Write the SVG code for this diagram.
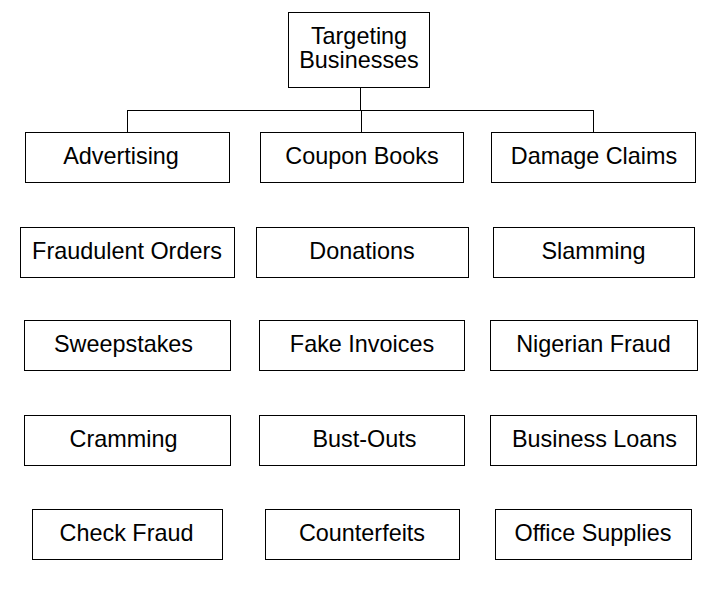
<svg xmlns="http://www.w3.org/2000/svg" width="720" height="614" viewBox="0 0 720 614">
<style>
rect{fill:#fff;stroke:#000;stroke-width:1}
text{font-family:"Liberation Sans",Arial,sans-serif;font-size:23.4px;fill:#000;text-anchor:middle}
.c line{stroke:#000;stroke-width:1}
</style>
<rect x="0" y="0" width="720" height="614" style="stroke:none"/>
<g class="c" id="connectors">
<line x1="360.5" y1="87" x2="360.5" y2="110.5"/>
<line x1="127.5" y1="110.5" x2="593.5" y2="110.5"/>
<line x1="127.5" y1="110" x2="127.5" y2="132"/>
<line x1="361.5" y1="110" x2="361.5" y2="132"/>
<line x1="593.5" y1="110" x2="593.5" y2="132"/>
</g>
<g id="root"><rect x="288.5" y="12.5" width="141" height="75"/><text x="359" y="44">Targeting</text><text x="359" y="68">Businesses</text></g>
<g id="advertising"><rect x="25.5" y="132.5" width="204" height="50"/><text x="121" y="164">Advertising</text></g>
<g id="coupon-books"><rect x="260.5" y="132.5" width="203" height="50"/><text x="362" y="164">Coupon Books</text></g>
<g id="damage-claims"><rect x="491.5" y="132.5" width="204" height="50"/><text x="594" y="164">Damage Claims</text></g>
<g id="fraudulent-orders"><rect x="20.5" y="227.5" width="214" height="50"/><text x="127" y="259">Fraudulent Orders</text></g>
<g id="donations"><rect x="256.5" y="227.5" width="212" height="50"/><text x="362" y="259">Donations</text></g>
<g id="slamming"><rect x="493.5" y="227.5" width="201" height="50"/><text x="593.5" y="259">Slamming</text></g>
<g id="sweepstakes"><rect x="24.5" y="320.5" width="206" height="50"/><text x="123.5" y="352">Sweepstakes</text></g>
<g id="fake-invoices"><rect x="259.5" y="320.5" width="205" height="50"/><text x="362" y="352">Fake Invoices</text></g>
<g id="nigerian-fraud"><rect x="490.5" y="320.5" width="207" height="50"/><text x="593.5" y="352">Nigerian Fraud</text></g>
<g id="cramming"><rect x="24.5" y="415.5" width="206" height="50"/><text x="123.5" y="447">Cramming</text></g>
<g id="bust-outs"><rect x="259.5" y="415.5" width="205" height="50"/><text x="364.5" y="447">Bust-Outs</text></g>
<g id="business-loans"><rect x="490.5" y="415.5" width="206" height="50"/><text x="594.5" y="447">Business Loans</text></g>
<g id="check-fraud"><rect x="32.5" y="509.5" width="190" height="50"/><text x="126.5" y="541">Check Fraud</text></g>
<g id="counterfeits"><rect x="265.5" y="509.5" width="194" height="50"/><text x="362" y="541">Counterfeits</text></g>
<g id="office-supplies"><rect x="495.5" y="509.5" width="196" height="50"/><text x="593" y="541">Office Supplies</text></g>
</svg>
